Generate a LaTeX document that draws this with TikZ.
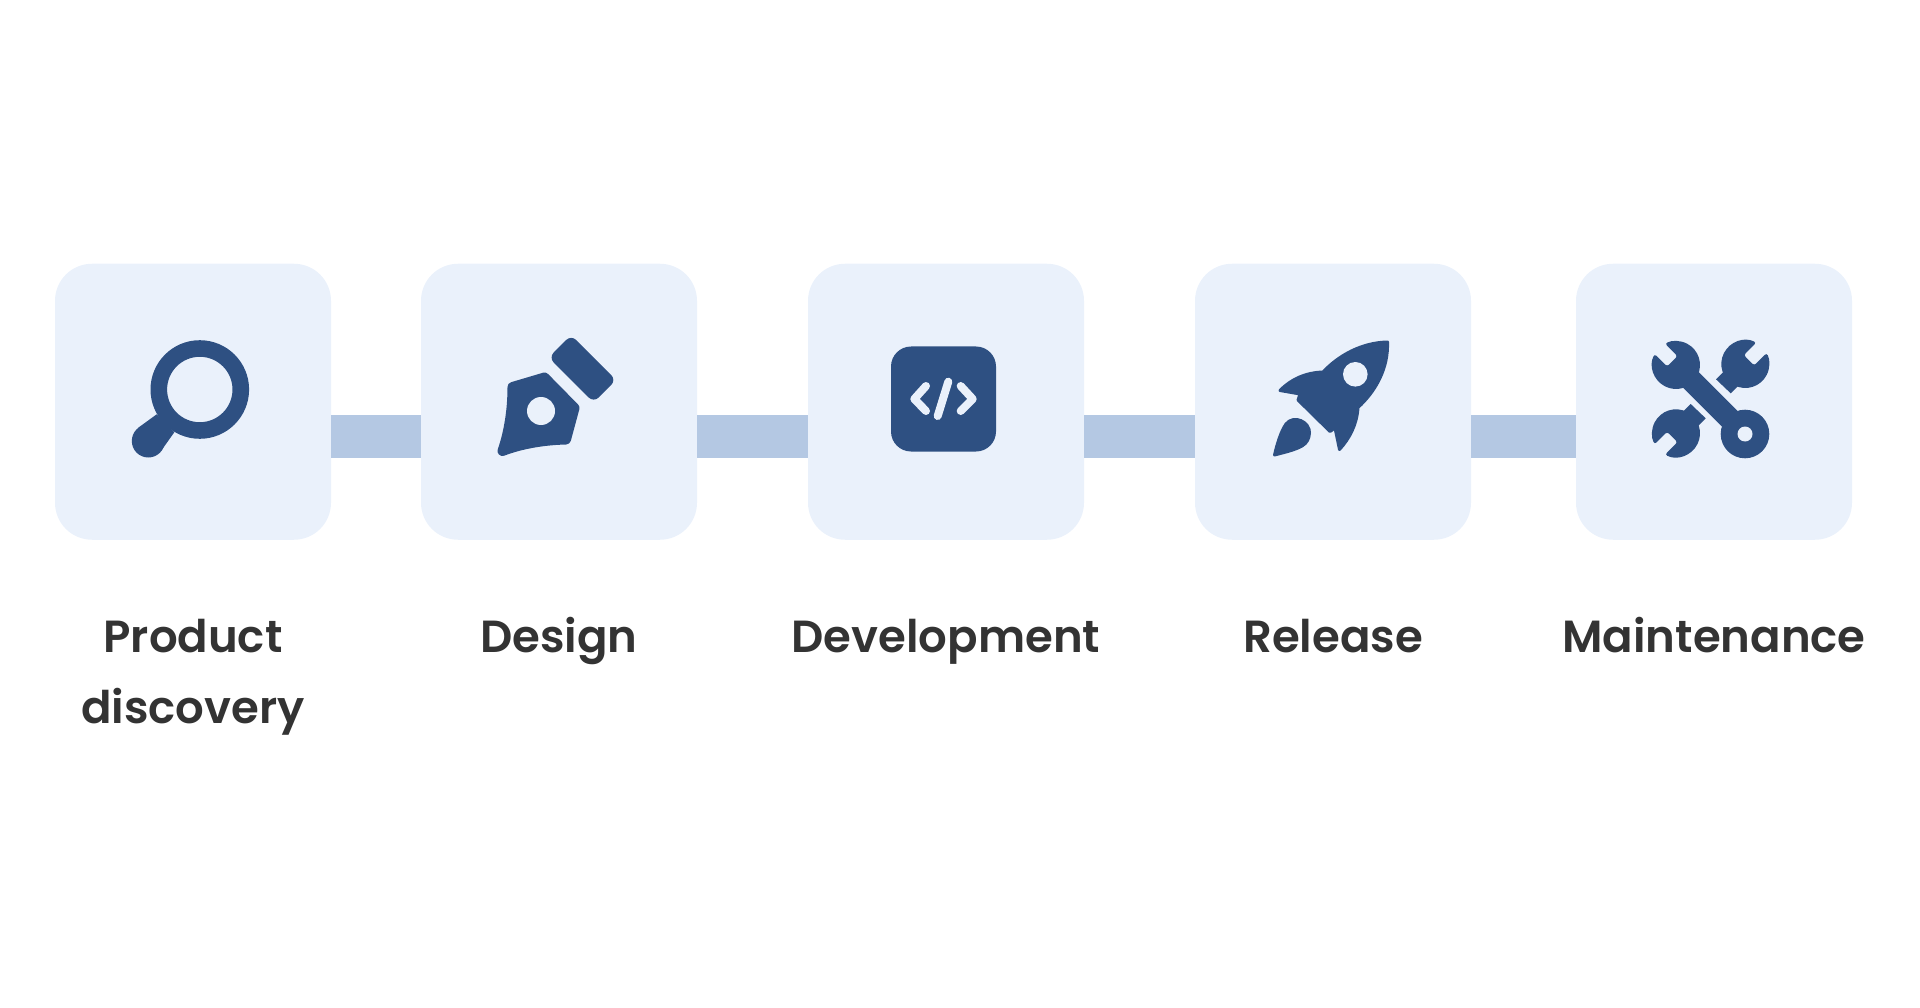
\documentclass[tikz,border=0pt]{standalone}
\usepackage{fontspec}
\setmainfont{Poppins SemiBold}
\definecolor{boxfill}{HTML}{EAF1FB}
\definecolor{linkfill}{HTML}{B4C8E3}
\definecolor{iconfill}{HTML}{2E5082}
\definecolor{labeltext}{HTML}{333333}
\tikzset{
	stagebox/.style={fill=boxfill, rounded corners=37pt, inner sep=0pt, minimum size=276pt},
	stagelink/.style={draw=linkfill, line width=42.5pt},
	stagelabel/.style={text=labeltext, font=\fontsize{45}{71}\selectfont, align=center, anchor=base, inner sep=0pt},
	iconcut/.style={fill=boxfill},
	iconsoft/.style={fill=iconfill, draw=iconfill, line width=10pt, line join=round},
	iconstroke/.style={draw=boxfill, line width=8pt, line cap=round, line join=round}
}

\begin{document}
\begin{tikzpicture}[x=1pt, y=-1pt]
	\useasboundingbox (0, 0) rectangle (1920, 1008);

	\node[stagebox] (box0) at (193, 401.75) {};
	\node[stagebox] (box1) at (559, 401.75) {};
	\node[stagebox] (box2) at (946, 401.75) {};
	\node[stagebox] (box3) at (1333, 401.75) {};
	\node[stagebox] (box4) at (1714, 401.75) {};

	\draw[stagelink] ([yshift=-34.5pt]box0.east) -- ([yshift=-34.5pt]box1.west);
	\draw[stagelink] ([yshift=-34.5pt]box1.east) -- ([yshift=-34.5pt]box2.west);
	\draw[stagelink] ([yshift=-34.5pt]box2.east) -- ([yshift=-34.5pt]box3.west);
	\draw[stagelink] ([yshift=-34.5pt]box3.east) -- ([yshift=-34.5pt]box4.west);

	\node[stagelabel] (label0) at (193, 723) {Product\\discovery};
	\node[stagelabel] (label1) at (559, 652) {Design};
	\node[stagelabel] (label2) at (946, 652) {Development};
	\node[stagelabel] (label3) at (1333, 652) {Release};
	\node[stagelabel] (label4) at (1714, 652) {Maintenance};

	% magnifier
	\fill[iconfill, even odd rule] (199.8, 389.5) circle (49.3pt) (199.8, 389.5) circle (32.7pt);
	\fill[iconfill] (148.3, 441) circle (16.5pt);
	\fill[iconfill] (156.7, 414.3) -- (138.3, 427.7) -- (161.7, 450) -- (174.3, 432.3) -- cycle;

	% pen
	\fill[iconfill, rounded corners=7pt] (571.2, 335) -- (616.2, 380) -- (593.7, 402.5) -- (548.7, 357.5) -- cycle;
	\filldraw[iconsoft] (544.5, 377.5) -- (574.5, 408) -- (566, 439.5)
		.. controls (545, 440) and (522, 443.5) .. (502.5, 451)
		.. controls (509, 432) and (512.5, 410) .. (512.5, 387) -- cycle;
	\fill[iconcut] (541, 411) circle (14pt);

	% code
	\fill[iconfill, rounded corners=20pt] (891, 346.5) rectangle (996, 451.5);
	\draw[iconstroke] (926, 386) -- (914.3, 399) -- (926, 411);
	\draw[iconstroke] (960.7, 386) -- (972.7, 399) -- (960.7, 411);
	\draw[iconstroke] (948.3, 381.7) -- (937.7, 416);

	% rocket
	\filldraw[iconsoft, line width=3pt] (1387.5, 342)
		.. controls (1388.5, 368) and (1376, 391) .. (1358, 407.5)
		.. controls (1357, 424) and (1350, 438) .. (1339.5, 449.5)
		-- (1335, 428) -- (1330, 431.5) -- (1298, 400) -- (1300, 394) -- (1280, 390.5)
		.. controls (1291, 379) and (1306, 372.5) .. (1323, 372)
		.. controls (1339, 355) and (1362, 342.5) .. (1387.5, 342) -- cycle;
	\fill[iconcut] (1355.3, 374.3) circle (12.3pt);
	\filldraw[iconsoft, line width=3pt] (1274.5, 455)
		.. controls (1277, 444) and (1281, 431) .. (1286, 424)
		.. controls (1294, 414) and (1310, 422) .. (1309.5, 433)
		.. controls (1309, 439) and (1307, 443) .. (1302, 446)
		.. controls (1295, 450) and (1284, 452.5) .. (1274.5, 455) -- cycle;

	% wrenches
	\foreach \cx/\cy/\turn in {1676/365/135, 1745.3/364/45, 1676/433.3/225} {
		\begin{scope}[shift={(\cx, \cy)}, rotate=\turn]
			\fill[iconfill, rounded corners=2.5pt] (17.8:24pt) arc[start angle=17.8, end angle=342.2, radius=24pt]
				-- (5.2pt, -7.35pt) -- (5.2pt, 7.35pt) -- cycle;
		\end{scope}
	}
	\fill[iconfill] (1745, 434) circle (24.3pt);
	\draw[iconfill, line width=22pt] (1676, 365) -- (1745, 434);
	\fill[iconfill] (1716, 379.3) -- (1730.7, 393.3) -- (1745.7, 378.3) -- (1731, 364.3) -- cycle;
	\fill[iconfill] (1690.7, 404) -- (1705.7, 418.3) -- (1690.7, 433.3) -- (1675.7, 419) -- cycle;
	\fill[iconcut] (1745, 434) circle (7.5pt);
\end{tikzpicture}
\end{document}
